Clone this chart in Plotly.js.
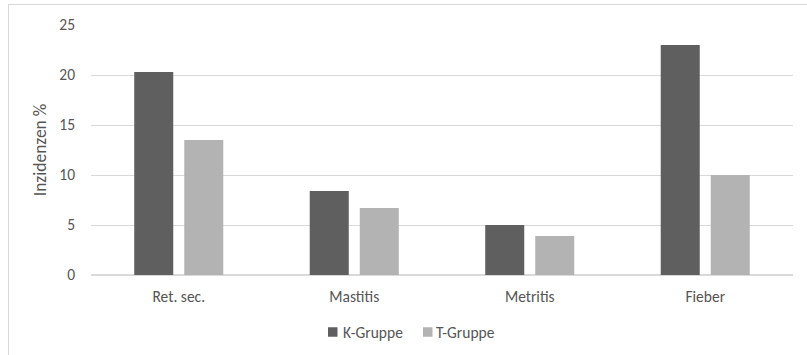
<!DOCTYPE html>
<html>
<head>
<meta charset="utf-8">
<script src="https://cdn.plot.ly/plotly-3.0.1.min.js"></script>
<style>
  html, body { margin: 0; padding: 0; background: #fff; }
  #wrap { position: relative; width: 807px; height: 355px; overflow: hidden; }
  #chart { position: absolute; left: 0; top: 0; width: 807px; height: 355px; }
  #frame { position: absolute; left: 8px; top: 4px; width: 820px; height: 380px;
           border-left: 1px solid #d9d9d9; border-top: 1px solid #d9d9d9; pointer-events: none; }
</style>
</head>
<body>
<div id="wrap">
  <div id="chart"></div>
  <div id="frame"></div>
</div>
<script>
// Incidence of diseases per group (%)
const categories = ["Ret. sec.", "Mastitis", "Metritis", "Fieber"];
const seriesNames = ["K-Gruppe", "T-Gruppe"];
const kGruppe = [20.3, 8.4, 5.0, 23.0];
const tGruppe = [13.5, 6.7, 3.9, 10.0];
const yTicks = [0, 5, 10, 15, 20, 25];

const colors = ["#5f5f5f", "#b3b3b3"];
const fontFamily = "Carlito, Calibri, Lato, 'Open Sans', sans-serif";
const textColor = "#555555";
const tickSize = 15.5;

// plot area in pixels
const W = 807, H = 355;
const M = { l: 91, r: 14, t: 25, b: 80 };
const plotW = W - M.l - M.r, plotH = H - M.t - M.b;
const px2x = p => (p - M.l) / plotW;
const px2y = p => (H - M.b - p) / plotH;

const traces = [
  { type: "bar", name: seriesNames[0], x: categories, y: kGruppe,
    marker: { color: colors[0] }, hoverinfo: "y" },
  { type: "bar", name: seriesNames[1], x: categories, y: tGruppe,
    marker: { color: colors[1] }, hoverinfo: "y" }
];

// legend below the plot: small square swatches followed by the series name
const legendY = 332;
const legendItems = [
  { sq: 328, text: 341 },
  { sq: 423, text: 434 }
];
const shapes = legendItems.map((it, i) => ({
  type: "rect", xref: "paper", yref: "paper",
  x0: px2x(it.sq), x1: px2x(it.sq + 9.5),
  y0: px2y(legendY - 4.75), y1: px2y(legendY + 4.75),
  fillcolor: colors[i], line: { width: 0 }
}));
const annotations = legendItems.map((it, i) => ({
  xref: "paper", yref: "paper", x: px2x(it.text), y: px2y(legendY),
  xanchor: "left", yanchor: "middle", showarrow: false,
  text: seriesNames[i],
  font: { family: fontFamily, size: tickSize, color: textColor }
}));

const layout = {
  width: W, height: H,
  margin: M,
  paper_bgcolor: "#ffffff", plot_bgcolor: "#ffffff",
  font: { family: fontFamily, size: tickSize, color: textColor },
  barmode: "group",
  bargap: 0.43,
  bargroupgap: 0.22,
  showlegend: false,
  shapes: shapes,
  annotations: annotations,
  xaxis: {
    type: "category",
    showgrid: false, zeroline: false,
    showline: false, ticks: "",
    ticklabelstandoff: 10,
    tickfont: { family: fontFamily, size: tickSize, color: textColor }
  },
  yaxis: {
    range: [0, 25], tickvals: yTicks, ticktext: yTicks.map(String),
    showgrid: true, gridcolor: "#d9d9d9", gridwidth: 1,
    zeroline: true, zerolinecolor: "#d9d9d9", zerolinewidth: 1.5,
    showline: false, ticks: "",
    ticklabelstandoff: 15,
    tickfont: { family: fontFamily, size: tickSize, color: textColor },
    title: { text: "Inzidenzen %", standoff: 8,
             font: { family: fontFamily, size: 17.5, color: textColor } }
  }
};

Plotly.newPlot("chart", traces, layout, { displayModeBar: false, staticPlot: true });
</script>
</body>
</html>
